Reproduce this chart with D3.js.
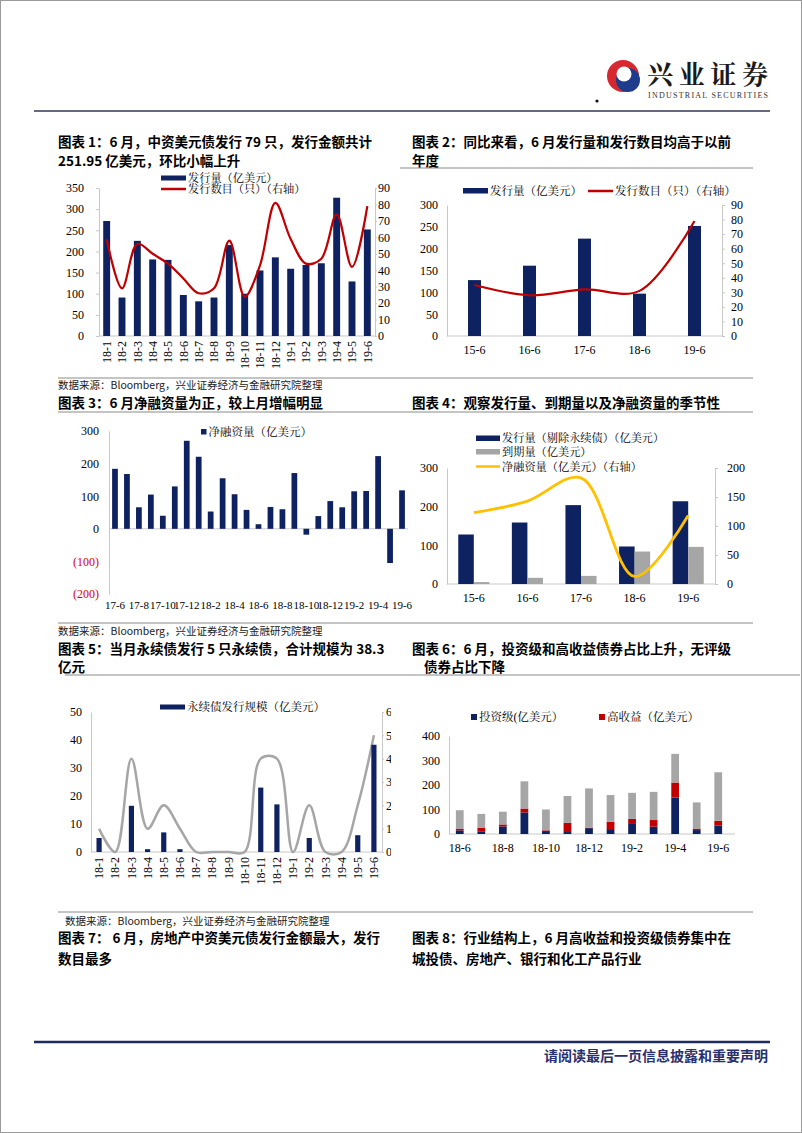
<!DOCTYPE html>
<html><head><meta charset="utf-8">
<script src="https://cdn.jsdelivr.net/npm/d3@7"></script>
<style>body{margin:0;background:#fff}svg{display:block}</style>
</head><body>
<svg id="page" width="802" height="1133"></svg>
<script>
// ---------- DATA ----------
const c1Months = ["18-1","18-2","18-3","18-4","18-5","18-6","18-7","18-8","18-9","18-10","18-11","18-12","19-1","19-2","19-3","19-4","19-5","19-6"];
const c1Amount = [272,91,225,181,180,97,82,91,215,100,155,186,159,168,172,327,129,252];
const c1Count  = [59,29,56,50,44,35,26,29,58,24,43,81,59,44,47,74,42,79];
const c1LeftTicks = [0,50,100,150,200,250,300,350];
const c1RightTicks = [0,10,20,30,40,50,60,70,80,90];

const c2Years = ["15-6","16-6","17-6","18-6","19-6"];
const c2Amount = [128,161,223,97,252];
const c2Count  = [35,28,32,31,79];
const c2LeftTicks = [0,50,100,150,200,250,300];
const c2RightTicks = [0,10,20,30,40,50,60,70,80,90];

const c3Months = ["17-6","17-7","17-8","17-9","17-10","17-11","17-12","18-1","18-2","18-3","18-4","18-5","18-6","18-7","18-8","18-9","18-10","18-11","18-12","19-1","19-2","19-3","19-4","19-5","19-6"];
const c3Net = [184,168,66,105,40,130,270,221,53,155,106,58,14,67,60,171,-18,39,85,66,115,116,223,-105,118];
const c3Ticks = [-200,-100,0,100,200,300];
const c3Labels = ["17-6","17-8","17-10","17-12","18-2","18-4","18-6","18-8","18-10","18-12","19-2","19-4","19-6"];

const c4Years = ["15-6","16-6","17-6","18-6","19-6"];
const c4Issue  = [128,159,204,97,214];
const c4Mature = [5,16,21,84,96];
const c4Net    = [123,143,183,13,118];
const c4LeftTicks = [0,100,200,300];
const c4RightTicks = [0,50,100,150,200];

const c5Months = c1Months;
const c5Amount = [5,0,16.5,1,7,1,0,0,0,0,23,17,0,5,0,0,6,38.3];
const c5Count  = [1,0,4,1,2,1,0,0,0,0,4,4,0,2,0,0,2,5];
const c5LeftTicks = [0,10,20,30,40,50];
const c5RightTicks = [0,1,2,3,4,5,6];

const c6Months = ["18-6","18-7","18-8","18-9","18-10","18-11","18-12","19-1","19-2","19-3","19-4","19-5","19-6"];
const c6IG    = [15,11,31,88,12,8,24,20,41,30,149,16,34];
const c6HY    = [7,15,8,16,3,38,2,30,21,27,61,6,20];
const c6Total = [97,82,91,215,100,155,186,159,168,172,327,129,252];
const c6Ticks = [0,100,200,300,400];
const c6Labels = ["18-6","18-8","18-10","18-12","19-2","19-4","19-6"];

// ---------- STYLE ----------
const NAVY="#0e2160", RED="#c00000", GRAY="#a6a6a6", YEL="#ffc000", AX="#c8c8c8";
const NUM="'Liberation Serif','Times New Roman',serif";
const CJK="'Liberation Serif','Noto Serif CJK SC','Noto Sans CJK SC',serif";
const TITLE="'Noto Sans CJK SC',sans-serif";
const svg=d3.select("#page");

function hline(x1,x2,y,color,w){svg.append("line").attr("x1",x1).attr("x2",x2).attr("y1",y).attr("y2",y).attr("stroke",color).attr("stroke-width",w);}
function text(x,y,t,o){const e=svg.append("text").attr("x",x).attr("y",y).text(t)
  .attr("font-family",o.ff||TITLE).attr("font-size",o.fs||13.5).attr("font-weight",o.fw||"normal")
  .attr("fill",o.fill||"#000").attr("text-anchor",o.anchor||"start");return e;}
function yAxis(scale,vals,side,x,size,pad,fmt){
  const ax=(side==="left"?d3.axisLeft(scale):d3.axisRight(scale)).tickValues(vals).tickSize(size).tickSizeOuter(0).tickPadding(pad).tickFormat(fmt||(d=>d));
  const a=svg.append("g").attr("transform",`translate(${x},0)`).call(ax);
  a.select(".domain").attr("stroke",AX);
  a.selectAll(".tick line").attr("stroke",AX);
  a.selectAll("text").attr("font-family",NUM).attr("font-size",12).attr("fill","#000");
  return a;}
function xAxis(scale,y,vals,pad,rotate,fs){
  const ax=d3.axisBottom(scale).tickSize(0).tickPadding(pad);
  if(vals) ax.tickValues(vals);
  const a=svg.append("g").attr("transform",`translate(0,${y})`).call(ax);
  a.select(".domain").remove();
  a.selectAll("text").attr("font-family",NUM).attr("font-size",fs||12).attr("fill","#000");
  if(rotate) a.selectAll("text").attr("transform","rotate(-90)").attr("text-anchor","end").attr("x",-pad).attr("y",0).attr("dy","0.35em");
  return a;}
function baseLine(x1,x2,y){hline(x1,x2,y,AX,1);}
function legRect(x,y,w,h,c,label,fs){svg.append("rect").attr("x",x).attr("y",y).attr("width",w).attr("height",h).attr("fill",c);
  text(x+w+2,y+h/2,label,{ff:CJK,fs:fs||11.5}).attr("dominant-baseline","central");}
function legLine(x,y,w,c,label,fs){hline(x,x+w,y,c,2.5);text(x+w+2,y,label,{ff:CJK,fs:fs||11.5}).attr("dominant-baseline","central");}

// ---------- PAGE FRAME / HEADER ----------
svg.append("rect").attr("x",0.5).attr("y",0.5).attr("width",801).attr("height",1132).attr("fill","none").attr("stroke","#9a9a9a");
svg.append("circle").attr("cx",623).attr("cy",76).attr("r",16).attr("fill","#d7282f");
svg.append("circle").attr("cx",628).attr("cy",80).attr("r",12).attr("fill","#1d3c8c");
svg.append("circle").attr("cx",624).attr("cy",74).attr("r",7.5).attr("fill","#fff");
text(647,84,"兴业证券",{ff:"'Noto Serif CJK SC','Noto Sans CJK SC',serif",fs:26,fw:"bold",fill:"#1a1a1a"}).attr("textLength",121);
text(648,98,"INDUSTRIAL SECURITIES",{ff:NUM,fs:8,fill:"#333"}).attr("textLength",120);
svg.append("circle").attr("cx",597).attr("cy",101).attr("r",1.6).attr("fill","#111");
hline(34,770,111,"#656a80",2);

// ---------- TITLES & RULES ----------
text(58,147,"图表 1：6 月，中资美元债发行 79 只，发行金额共计",{fw:"bold"});
text(58,166,"251.95 亿美元，环比小幅上升",{fw:"bold"});
text(412,147,"图表 2：同比来看，6 月发行量和发行数目均高于以前",{fw:"bold"});
text(412,166,"年度",{fw:"bold"});
hline(400,753,168,"#8a8a8a",1);

hline(58,753,378,"#8a8a8a",1);
text(58,389,"数据来源：Bloomberg，兴业证券经济与金融研究院整理",{fs:10.5,fill:"#222"});
text(58,408,"图表 3：6 月净融资量为正，较上月增幅明显",{fw:"bold"});
text(412,408,"图表 4：观察发行量、到期量以及净融资量的季节性",{fw:"bold"});
hline(58,753,412,"#8a8a8a",1);

hline(58,753,623,"#8a8a8a",1);
text(58,635,"数据来源：Bloomberg，兴业证券经济与金融研究院整理",{fs:10.5,fill:"#222"});
text(58,654,"图表 5：当月永续债发行 5 只永续债，合计规模为 38.3",{fw:"bold"});
text(58,672,"亿元",{fw:"bold"});
text(412,654,"图表 6：6 月，投资级和高收益债券占比上升，无评级",{fw:"bold"});
text(424,672,"债券占比下降",{fw:"bold"});
hline(65,800,675,"#8a8a8a",1);

hline(58,753,912,"#8a8a8a",1);
text(65,925,"数据来源：Bloomberg，兴业证券经济与金融研究院整理",{fs:10.5,fill:"#222"});
text(58,943,"图表 7：  6 月，房地产中资美元债发行金额最大，发行",{fw:"bold"});
text(58,964,"数目最多",{fw:"bold"});
text(412,943,"图表 8：行业结构上，6 月高收益和投资级债券集中在",{fw:"bold"});
text(412,964,"城投债、房地产、银行和化工产品行业",{fw:"bold"});

hline(34,770,1042,"#1f2a5e",2.5);
text(768,1061,"请阅读最后一页信息披露和重要声明",{fs:14,fw:"bold",fill:"#2a2f6e",anchor:"end"});

// ---------- CHART 1 ----------
(function(){
  const x=d3.scaleBand().domain(c1Months).range([99,375]).paddingInner(0.55).paddingOuter(0.275);
  const yL=d3.scaleLinear().domain([0,350]).range([336,188]);
  const yR=d3.scaleLinear().domain([0,90]).range([336,188]);
  yAxis(yL,c1LeftTicks,"left",99,3,12);
  yAxis(yR,c1RightTicks,"right",375,2,1);
  baseLine(99,375,336);
  svg.append("g").selectAll("rect").data(c1Amount).join("rect")
    .attr("x",(d,i)=>x(c1Months[i])).attr("width",x.bandwidth())
    .attr("y",d=>yL(d)).attr("height",d=>yL(0)-yL(d)).attr("fill",NAVY);
  svg.append("path").datum(c1Count).attr("fill","none").attr("stroke",RED).attr("stroke-width",2.2)
    .attr("d",d3.line().x((d,i)=>x(c1Months[i])+x.bandwidth()/2).y(d=>yR(d)).curve(d3.curveCatmullRom));
  xAxis(x,336,null,5,true);
  legRect(161,175.5,25,5,NAVY,"发行量（亿美元）",11.2);
  legLine(161,189,25,RED,"发行数目（只）（右轴）",11.2);
})();

// ---------- CHART 2 ----------
(function(){
  const x=d3.scaleBand().domain(c2Years).range([447,722]).paddingInner(0.764).paddingOuter(0.382);
  const yL=d3.scaleLinear().domain([0,300]).range([336,205]);
  const yR=d3.scaleLinear().domain([0,90]).range([336,205]);
  yAxis(yL,c2LeftTicks,"left",447,0,9);
  yAxis(yR,c2RightTicks,"right",722,3,6);
  baseLine(447,722,336);
  svg.append("g").selectAll("rect").data(c2Amount).join("rect")
    .attr("x",(d,i)=>x(c2Years[i])).attr("width",x.bandwidth())
    .attr("y",d=>yL(d)).attr("height",d=>yL(0)-yL(d)).attr("fill",NAVY);
  svg.append("path").datum(c2Count).attr("fill","none").attr("stroke",RED).attr("stroke-width",2.2)
    .attr("d",d3.line().x((d,i)=>x(c2Years[i])+x.bandwidth()/2).y(d=>yR(d)).curve(d3.curveCatmullRom));
  xAxis(x,336,null,9,false);
  legRect(463,188,25,5.5,NAVY,"发行量（亿美元）");
  legLine(588,191,25,RED,"发行数目（只）（右轴）");
})();

// ---------- CHART 3 ----------
(function(){
  const x=d3.scaleBand().domain(c3Months).range([109,408]).paddingInner(0.52).paddingOuter(0.26);
  const y=d3.scaleLinear().domain([-200,300]).range([594,431]);
  const a=yAxis(y,c3Ticks,"left",109,0,10,d=>d<0?`(${-d})`:d);
  a.selectAll("text").attr("fill",d=>d<0?"#e00000":"#000");
  baseLine(109,408,y(0));
  svg.append("g").selectAll("rect").data(c3Net).join("rect")
    .attr("x",(d,i)=>x(c3Months[i])).attr("width",x.bandwidth())
    .attr("y",d=>y(Math.max(0,d))).attr("height",d=>Math.abs(y(d)-y(0))).attr("fill",NAVY);
  xAxis(x,598,c3Labels,3,false,11);
  legRect(201,429,5.5,5.5,NAVY,"净融资量（亿美元）");
})();

// ---------- CHART 4 ----------
(function(){
  const x=d3.scaleBand().domain(c4Years).range([447,715]).paddingInner(0.42).paddingOuter(0.21);
  const yL=d3.scaleLinear().domain([0,300]).range([584,468]);
  const yR=d3.scaleLinear().domain([0,200]).range([584,468]);
  yAxis(yL,c4LeftTicks,"left",447,0,9);
  yAxis(yR,c4RightTicks,"right",715,3,9);
  baseLine(447,715,584);
  const w=x.bandwidth()/2;
  svg.append("g").selectAll("rect").data(c4Issue).join("rect")
    .attr("x",(d,i)=>x(c4Years[i])).attr("width",w)
    .attr("y",d=>yL(d)).attr("height",d=>yL(0)-yL(d)).attr("fill",NAVY);
  svg.append("g").selectAll("rect").data(c4Mature).join("rect")
    .attr("x",(d,i)=>x(c4Years[i])+w).attr("width",w)
    .attr("y",d=>yL(d)).attr("height",d=>yL(0)-yL(d)).attr("fill",GRAY);
  svg.append("path").datum(c4Net).attr("fill","none").attr("stroke",YEL).attr("stroke-width",2.8)
    .attr("d",d3.line().x((d,i)=>x(c4Years[i])+w).y(d=>yR(d)).curve(d3.curveCatmullRom));
  xAxis(x,584,null,9,false);
  legRect(476,435.5,24,5.5,NAVY,"发行量（剔除永续债）（亿美元）",11.2);
  legRect(476,449,24,5.5,GRAY,"到期量（亿美元）",11.2);
  legLine(476,466.5,24,YEL,"净融资量（亿美元）（右轴）",11.2);
})();

// ---------- CHART 5 ----------
(function(){
  const x=d3.scaleBand().domain(c5Months).range([91,382]).paddingInner(0.68).paddingOuter(0.34);
  const yL=d3.scaleLinear().domain([0,50]).range([852,712]);
  const yR=d3.scaleLinear().domain([0,6]).range([852,712]);
  yAxis(yL,c5LeftTicks,"left",91,0,9);
  svg.append("clipPath").attr("id","c5clip").append("rect").attr("x",-10).attr("y",690).attr("width",19).attr("height",200);
  const r=yAxis(yR,c5RightTicks,"right",382,2,2);
  r.attr("clip-path","url(#c5clip)");
  baseLine(91,382,852);
  svg.append("path").datum(c5Count).attr("fill","none").attr("stroke",GRAY).attr("stroke-width",2.5)
    .attr("d",d3.line().x((d,i)=>x(c5Months[i])+x.bandwidth()/2).y(d=>yR(d)).curve(d3.curveCatmullRom));
  svg.append("g").selectAll("rect").data(c5Amount).join("rect")
    .attr("x",(d,i)=>x(c5Months[i])).attr("width",x.bandwidth())
    .attr("y",d=>yL(d)).attr("height",d=>yL(0)-yL(d)).attr("fill",NAVY);
  xAxis(x,852,null,5,true);
  legRect(160,704.5,25,5,NAVY,"永续债发行规模（亿美元）");
})();

// ---------- CHART 6 ----------
(function(){
  const x=d3.scaleBand().domain(c6Months).range([449,729]).paddingInner(0.64).paddingOuter(0.32);
  const y=d3.scaleLinear().domain([0,400]).range([834,736]);
  yAxis(y,c6Ticks,"left",449,0,9);
  baseLine(449,735,834);
  const g=svg.append("g");
  c6Months.forEach((m,i)=>{
    const ig=c6IG[i], hy=c6HY[i], tot=c6Total[i];
    g.append("rect").attr("x",x(m)).attr("width",x.bandwidth()).attr("y",y(ig)).attr("height",y(0)-y(ig)).attr("fill",NAVY);
    g.append("rect").attr("x",x(m)).attr("width",x.bandwidth()).attr("y",y(ig+hy)).attr("height",y(ig)-y(ig+hy)).attr("fill",RED);
    g.append("rect").attr("x",x(m)).attr("width",x.bandwidth()).attr("y",y(tot)).attr("height",y(ig+hy)-y(tot)).attr("fill",GRAY);
  });
  xAxis(x,834,c6Labels,9,false);
  legRect(471,714,6,6,NAVY,"投资级(亿美元）");
  legRect(599,714,6,6,RED,"高收益（亿美元）");
})();
</script>
</body></html>
